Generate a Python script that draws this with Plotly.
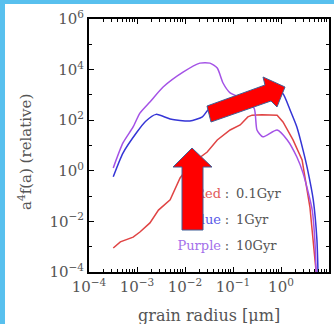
import plotly.graph_objects as go

# ---------------- data ----------------
red_r = [3.2e-4, 4.5e-4, 8.3e-4, 1.15e-3, 1.86e-3, 2.8e-3, 4.9e-3, 7.9e-3, 1.26e-2, 2.0e-2,
         2.9e-2, 4.7e-2, 8.7e-2, 0.141, 0.204, 0.25, 0.4, 0.83, 1.1, 1.78, 2.75, 4.0, 5.1, 5.4]
red_f = [8.9e-4, 1.55e-3, 2.4e-3, 3.8e-3, 8.7e-3, 0.028, 0.071, 0.52, 1.7, 3.2,
         5.5, 16.6, 41, 65, 135, 158, 166, 158, 85, 16.6, 2.7, 0.037, 3.0e-4, 1e-4]

blue_r = [3.2e-4, 5.1e-4, 1.0e-3, 1.5e-3, 2.5e-3, 4.9e-3, 1.26e-2, 2.3e-2, 3.0e-2, 6.3e-2,
          0.158, 0.4, 0.79, 1.1, 1.55, 2.14, 2.88, 3.6, 4.7, 5.6, 5.9]
blue_f = [0.58, 5.0, 34, 89, 170, 112, 93, 135, 250, 560,
          1000, 1400, 1600, 1100, 250, 54, 6.6, 1.07, 0.071, 1.9e-3, 1e-4]

purple_r = [3.2e-4, 5.1e-4, 8.3e-4, 1.15e-3, 1.86e-3, 3.5e-3, 9.1e-3, 2.04e-2, 3.3e-2, 4.7e-2,
            6.2e-2, 8.7e-2, 0.12, 0.178, 0.275, 0.316, 0.417, 0.83, 1.35, 2.14, 2.88, 4.47, 5.13, 5.37]
purple_f = [1.3, 12.6, 54, 190, 525, 2040, 7900, 1.8e4, 1.8e4, 1.15e4,
            2950, 1200, 890, 500, 300, 41, 22, 41, 16.6, 3.5, 0.81, 0.028, 1.2e-3, 1e-4]

x_tickvals = [1e-4, 1e-3, 1e-2, 1e-1, 1e0, 1e1]
x_ticktext = ["10<sup>\u22124</sup>", "10<sup>\u22123</sup>", "10<sup>\u22122</sup>",
              "10<sup>\u22121</sup>", "10<sup>0</sup>", "10<sup>1</sup>"]
y_tickvals = [1e-4, 1e-2, 1e0, 1e2, 1e4, 1e6]
y_ticktext = ["10<sup>\u22124</sup>", "10<sup>\u22122</sup>", "10<sup>0</sup>",
              "10<sup>2</sup>", "10<sup>4</sup>", "10<sup>6</sup>"]

legend_names = ["Red", "Blue", "Purple"]
legend_ages = ["0.1Gyr", "1Gyr", "10Gyr"]

# ---------------- layout geometry ----------------
W, H = 334, 324
L, R, T, B = 89, 5, 19, 52
PW, PH = W - L - R, H - T - B
X_LOG = (-4, 1)
Y_LOG = (-4, 6)

def px(x):
    return (x - L) / PW

def py(y):
    return (H - B - y) / PH

def xdata(x):
    return 10 ** (X_LOG[0] + (X_LOG[1] - X_LOG[0]) * px(x))

def ydata(y):
    return 10 ** (Y_LOG[0] + (Y_LOG[1] - Y_LOG[0]) * py(y))

SERIF = "DejaVu Serif"
GRAY = "#555555"
line_colors = ["#e04444", "#3535d6", "#a452e6"]
text_colors = ["#e25a5a", "#5a5ae8", "#a470ea"]

fig = go.Figure()
for r, f, c, shp in [(red_r, red_f, line_colors[0], "linear"),
                     (blue_r, blue_f, line_colors[1], "spline"),
                     (purple_r, purple_f, line_colors[2], "spline")]:
    fig.add_trace(go.Scatter(x=r, y=f, mode="lines",
                             line=dict(color=c, width=1.5, shape=shp, smoothing=0.6),
                             hoverinfo="skip", showlegend=False))

# legend text as a text trace (so the arrows can cover it)
rows_y = [195, 221, 247]
for name, age, ry, tc in zip(legend_names, legend_ages, rows_y, text_colors):
    fig.add_trace(go.Scatter(x=[xdata(221)], y=[ydata(ry)], mode="text", text=[name],
                             textposition="middle left",
                             textfont=dict(family=SERIF, size=13, color=tc),
                             hoverinfo="skip", showlegend=False))
    fig.add_trace(go.Scatter(x=[xdata(236)], y=[ydata(ry)], mode="text", text=[age],
                             textposition="middle right",
                             textfont=dict(family=SERIF, size=13, color=GRAY),
                             hoverinfo="skip", showlegend=False))
    fig.add_trace(go.Scatter(x=[xdata(227)], y=[ydata(ry)], mode="text", text=[":"],
                             textposition="middle center",
                             textfont=dict(family=SERIF, size=13, color=GRAY),
                             hoverinfo="skip", showlegend=False))

def poly(points):
    s = "M " + " L ".join(f"{px(x):.4f},{py(y):.4f}" for x, y in points) + " Z"
    return s

up_arrow = [(192, 148), (212, 167), (203, 167), (203, 230), (182, 230), (182, 167), (173, 167)]
diag_arrow = [(207, 106), (265, 85), (263, 77), (285, 87), (277, 107), (271, 101), (211, 122)]

shapes = []
for pts in (up_arrow, diag_arrow):
    shapes.append(dict(type="path", xref="paper", yref="paper", path=poly(pts),
                       fillcolor="#ff0000", line=dict(color="#3f5f96", width=1), layer="above"))
# light-blue frame on top and left
BORDER = "#58c0ee"
shapes.append(dict(type="rect", xref="paper", yref="paper", x0=px(0), x1=px(5), y0=py(H), y1=py(0),
                   fillcolor=BORDER, line=dict(width=0), layer="above"))
shapes.append(dict(type="rect", xref="paper", yref="paper", x0=px(0), x1=px(W), y0=py(4), y1=py(0),
                   fillcolor=BORDER, line=dict(width=0), layer="above"))

annotations = [
    dict(text="grain radius [\u03bcm]", xref="paper", yref="paper", x=0.5, y=py(315),
         xanchor="center", yanchor="middle", showarrow=False,
         font=dict(family=SERIF, size=16, color=GRAY)),
    dict(text="a<sup>4</sup>f(a) (relative)", xref="paper", yref="paper", x=px(25), y=py(152),
         xanchor="center", yanchor="middle", textangle=-90, showarrow=False,
         font=dict(family=SERIF, size=15, color=GRAY)),
]

axis_common = dict(type="log", showgrid=False, zeroline=False, showline=True, linecolor="black",
                   linewidth=2, mirror="ticks", ticks="inside", ticklen=5, tickwidth=1.3,
                   tickcolor="black", tickfont=dict(family=SERIF, size=15, color=GRAY),
                   tickmode="array")

fig.update_layout(
    width=W, height=H, margin=dict(l=L, r=R, t=T, b=B, autoexpand=False),
    paper_bgcolor="white", plot_bgcolor="white", showlegend=False,
    xaxis=dict(range=list(X_LOG), tickvals=x_tickvals, ticktext=x_ticktext,
               minor=dict(ticks="inside", ticklen=3, tickwidth=1, tickcolor="black", dtick="D1"),
               **axis_common),
    yaxis=dict(range=list(Y_LOG), tickvals=y_tickvals, ticktext=y_ticktext,
               minor=dict(ticks="inside", ticklen=3, tickwidth=1, tickcolor="black", dtick=1),
               **axis_common),
    shapes=shapes, annotations=annotations,
)

fig.write_html("out.html", config={"displayModeBar": False},
               post_script="document.body.style.margin='0';document.body.style.overflow='hidden';")
